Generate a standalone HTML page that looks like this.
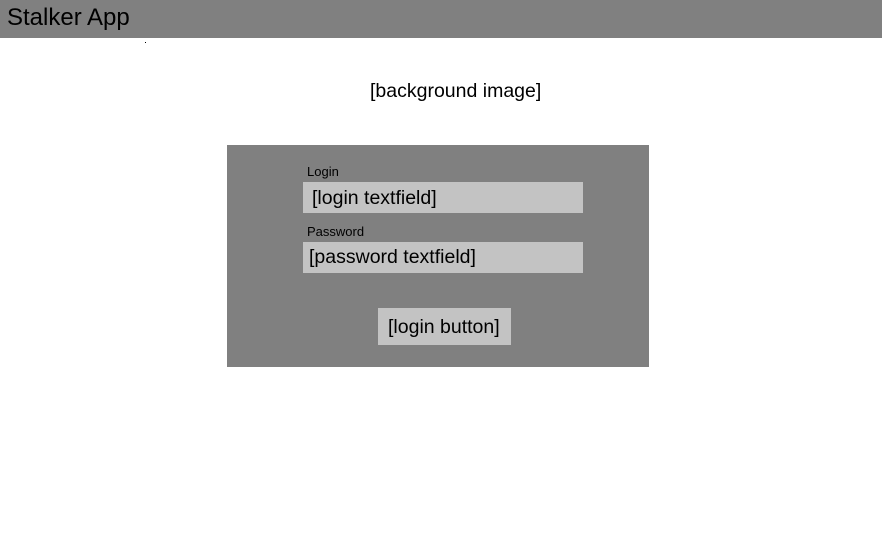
<!DOCTYPE html>
<html><head><style>
body{margin:0;width:882px;height:535px;background:#fff;position:relative;font-family:"Liberation Sans",sans-serif;overflow:hidden}
div{position:absolute;box-sizing:border-box}
.t{white-space:nowrap;color:#000}
</style></head><body>
<div style="left:0;top:0;width:882px;height:38px;background:#808080"></div>
<div class="t" style="left:7px;top:4px;font-size:24px">Stalker App</div>
<div style="left:145px;top:42px;width:1px;height:1px;background:#000"></div>
<div class="t" style="left:370px;top:80px;font-size:19.5px">[background image]</div>
<div style="left:227px;top:145px;width:422px;height:222px;background:#808080"></div>
<div class="t" style="left:307px;top:164px;font-size:13px">Login</div>
<div style="left:303px;top:182px;width:280px;height:31px;background:#c3c3c3"></div>
<div class="t" style="left:312px;top:187px;font-size:19.5px">[login textfield]</div>
<div class="t" style="left:307px;top:224px;font-size:13px">Password</div>
<div style="left:303px;top:242px;width:280px;height:31px;background:#c3c3c3"></div>
<div class="t" style="left:309px;top:246px;font-size:19.5px">[password textfield]</div>
<div style="left:378px;top:308px;width:133px;height:37px;background:#c3c3c3"></div>
<div class="t" style="left:388px;top:316px;font-size:19.5px">[login button]</div>
</body></html>
